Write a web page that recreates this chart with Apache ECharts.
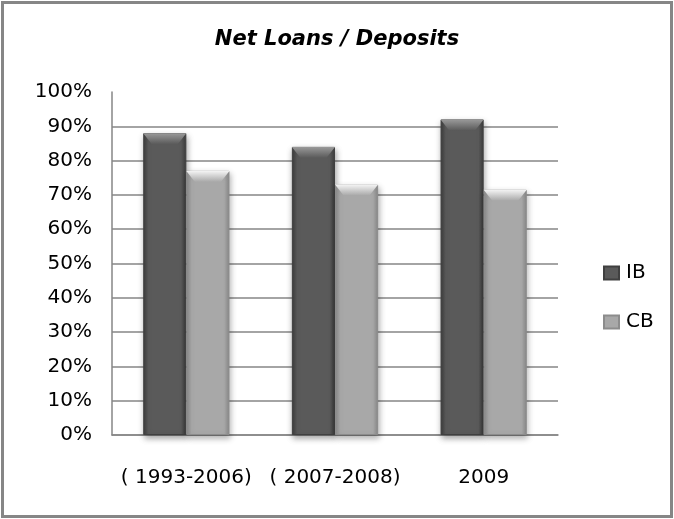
<!DOCTYPE html>
<html>
<head>
<meta charset="utf-8">
<script src="https://cdn.jsdelivr.net/npm/echarts@6/dist/echarts.min.js"></script>
<style>
  html, body { margin: 0; padding: 0; background: #ffffff; }
  #chart { width: 674px; height: 519px; }
</style>
</head>
<body>
<div id="chart"></div>
<script>
// Net loans to deposits ratio (%), by period
const categories = ['( 1993-2006)', '( 2007-2008)', '2009'];
const ibValues = [88, 84, 92];
const cbValues = [77, 73, 71.5];
const seriesNames = ['IB', 'CB'];
const yTicks = [0, 10, 20, 30, 40, 50, 60, 70, 80, 90, 100];

const FONT = 'DejaVu Sans';

function sideShade(edge, mid) {
  return new echarts.graphic.LinearGradient(0, 0, 1, 0, [
    { offset: 0, color: edge },
    { offset: 0.12, color: mid },
    { offset: 0.88, color: mid },
    { offset: 1, color: edge }
  ]);
}
function topShade(light, base) {
  return new echarts.graphic.LinearGradient(0, 0, 0, 1, [
    { offset: 0, color: light },
    { offset: 1, color: base }
  ]);
}

const barCommon = {
  type: 'bar',
  barGap: '0%',
  barCategoryGap: '42%',
  z: 2
};
const capCommon = {
  type: 'pictorialBar',
  barGap: '0%',
  barCategoryGap: '42%',
  symbol: 'path://M0,0 L100,0 L80,100 L20,100 Z',
  symbolPosition: 'end',
  symbolSize: ['100%', 11],
  symbolOffset: [0, 0],
  silent: true,
  z: 3
};

const chart = echarts.init(document.getElementById('chart'), null, { renderer: 'canvas' });
chart.setOption({
  animation: false,
  backgroundColor: '#ffffff',
  title: {
    text: 'Net Loans / Deposits',
    left: 'center',
    top: 24,
    textStyle: { fontFamily: FONT, fontSize: 21, fontWeight: 'bold', fontStyle: 'italic', color: '#000000' }
  },
  legend: {
    data: seriesNames,
    orient: 'vertical',
    left: 598,
    top: 258,
    itemWidth: 15,
    itemHeight: 13,
    itemGap: 29,
    icon: 'rect',
    textStyle: { fontFamily: FONT, fontSize: 20, color: '#000000', padding: [0, 0, 0, 2] }
  },
  grid: { left: 112, right: 116, top: 92, bottom: 84, containLabel: false },
  xAxis: {
    type: 'category',
    data: categories,
    axisLine: { show: true, lineStyle: { color: '#868686', width: 1.5 } },
    axisTick: { show: false },
    axisLabel: { interval: 0, hideOverlap: false, fontFamily: FONT, fontSize: 20, color: '#000000', margin: 33 }
  },
  yAxis: {
    type: 'value',
    min: yTicks[0],
    max: yTicks[yTicks.length - 1],
    interval: 10,
    axisLine: { show: true, lineStyle: { color: '#868686', width: 1.5 } },
    axisTick: { show: false },
    axisLabel: { fontFamily: FONT, fontSize: 20, color: '#000000', margin: 20, formatter: '{value}%' },
    splitLine: { show: true, showMaxLine: false, lineStyle: { color: '#868686', width: 1.5 } }
  },
  series: [
    Object.assign({}, barCommon, {
      name: seriesNames[0],
      data: ibValues,
      itemStyle: {
        color: sideShade('#3c3c3c', '#5a5a5a'),
        borderColor: '#404040', borderWidth: 1,
        shadowBlur: 6, shadowOffsetX: 1, shadowOffsetY: 3, shadowColor: 'rgba(0,0,0,0.35)'
      }
    }),
    Object.assign({}, barCommon, {
      name: seriesNames[1],
      data: cbValues,
      itemStyle: {
        color: sideShade('#8a8a8a', '#a8a8a8'),
        borderColor: '#8c8c8c', borderWidth: 1,
        shadowBlur: 6, shadowOffsetX: 1, shadowOffsetY: 3, shadowColor: 'rgba(0,0,0,0.3)'
      }
    }),
    Object.assign({}, capCommon, {
      name: 'IB bevel',
      data: ibValues,
      itemStyle: { color: topShade('#9a9a9a', '#5a5a5a') }
    }),
    Object.assign({}, capCommon, {
      name: 'CB bevel',
      data: cbValues,
      itemStyle: { color: topShade('#f4f4f4', '#a8a8a8') }
    })
  ],
  graphic: [{
    type: 'rect',
    shape: { x: 2.5, y: 2.5, width: 669, height: 514 },
    style: { fill: null, stroke: '#868686', lineWidth: 3 },
    silent: true,
    z: 10
  }]
});
</script>
</body>
</html>
